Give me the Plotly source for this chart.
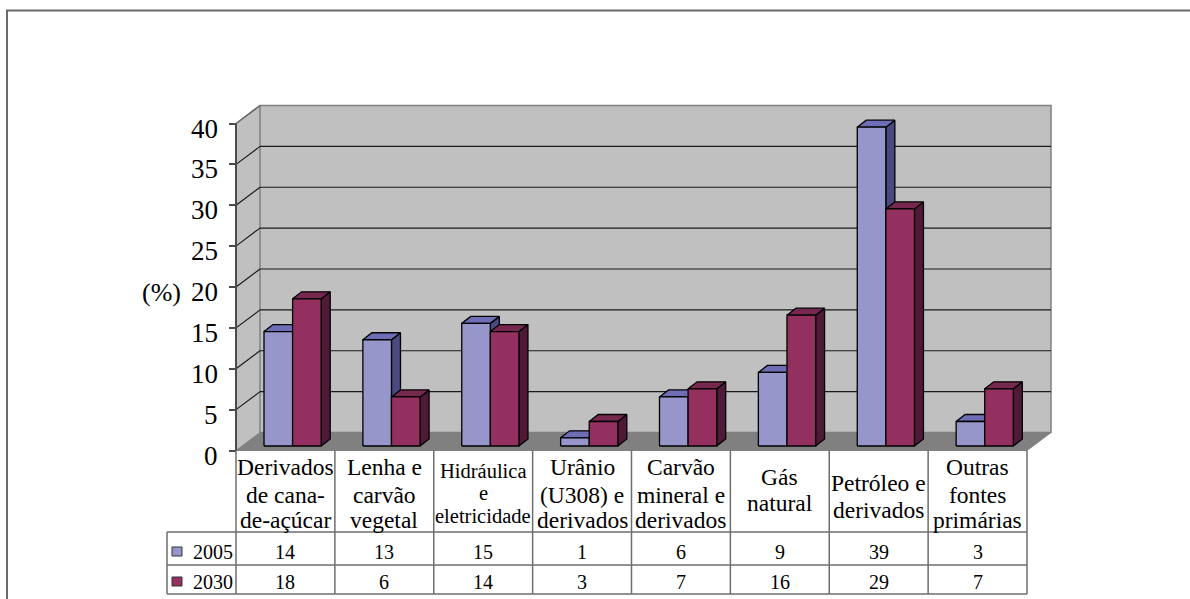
import plotly.graph_objects as go

# ---- data -------------------------------------------------------------
categories = [
    "Derivados<br>de cana-<br>de-açúcar",
    "Lenha e<br>carvão<br>vegetal",
    "Hidráulica<br>e<br>eletricidade",
    "Urânio<br>(U308) e<br>derivados",
    "Carvão<br>mineral e<br>derivados",
    "Gás<br>natural",
    "Petróleo e<br>derivados",
    "Outras<br>fontes<br>primárias",
]
series_names = ["2005", "2030"]
values_2005 = [14, 13, 15, 1, 6, 9, 39, 3]
values_2030 = [18, 6, 14, 3, 7, 16, 29, 7]
tick_values = [0, 5, 10, 15, 20, 25, 30, 35, 40]
axis_title = "(%)"

# ---- layout constants (pixels of the 1190x599 page) -------------------
W, H = 1190, 599
X0_PX = 236.0          # left edge of first category column
COL_PX = 98.875        # width of a category column
Y0_PX = 450.5          # value 0 on the front plane
UNIT_PX = 8.175        # pixels per percentage point

def px_x(px):
    return (px - X0_PX) / COL_PX

def px_y(py):
    return (Y0_PX - py) / UNIT_PX

N = len(categories)
YMAX = 40

# 3-D offsets (expressed in axis units)
WALL_DX, WALL_DY = 24 / COL_PX, 18 / UNIT_PX
BAR_DX, BAR_DY = 9 / COL_PX, 7 / UNIT_PX
BAR_LIFT = 4.5 / UNIT_PX
BAR_OFF = 28 / COL_PX
BAR_W = 28.6 / COL_PX

COLORS = {
    "2005": {"front": "#9696ca", "top": "#6e6eb6", "side": "#4a4a80"},
    "2030": {"front": "#93305f", "top": "#77284f", "side": "#4f1937"},
}
SERIF = "Liberation Serif"

fig = go.Figure()
shapes = []
annotations = []

# ---- walls, floor and gridlines ---------------------------------------
shapes.append(dict(type="path", xref="x", yref="y", layer="below",
                   path=f"M 0,0 L {WALL_DX},{WALL_DY} L {WALL_DX},{YMAX + WALL_DY} L 0,{YMAX} Z",
                   fillcolor="#c0c0c0", line=dict(width=0)))
shapes.append(dict(type="rect", xref="x", yref="y", layer="below",
                   x0=WALL_DX, x1=N + WALL_DX, y0=WALL_DY, y1=YMAX + WALL_DY,
                   fillcolor="#c0c0c0", line=dict(color="#808080", width=1.5)))
shapes.append(dict(type="path", xref="x", yref="y", layer="below",
                   path=f"M 0,0 L {WALL_DX},{WALL_DY} L {N + WALL_DX},{WALL_DY} L {N},0 Z",
                   fillcolor="#808080", line=dict(color="#808080", width=1)))
for v in tick_values[1:-1]:
    shapes.append(dict(type="line", xref="x", yref="y", layer="below",
                       x0=WALL_DX, x1=N + WALL_DX, y0=v + WALL_DY, y1=v + WALL_DY,
                       line=dict(color="#1a1a1a", width=1.2)))
    shapes.append(dict(type="line", xref="x", yref="y", layer="below",
                       x0=0, x1=WALL_DX, y0=v, y1=v + WALL_DY,
                       line=dict(color="#1a1a1a", width=1.2)))
shapes.append(dict(type="line", xref="x", yref="y", layer="below",
                   x0=0, x1=WALL_DX, y0=YMAX, y1=YMAX + WALL_DY,
                   line=dict(color="#606060", width=1.5)))
# front value axis line
shapes.append(dict(type="line", xref="x", yref="y",
                   x0=0, x1=0, y0=0, y1=YMAX,
                   line=dict(color="#4a4a4a", width=2)))

# ---- 3-D columns ------------------------------------------------------
def add_faces(vals, idx, name):
    front_x, front_y, top_x, top_y, side_x, side_y = [], [], [], [], [], []
    for i, v in enumerate(vals):
        x0 = i + BAR_OFF + idx * BAR_W
        x1 = x0 + BAR_W
        b, t = BAR_LIFT, BAR_LIFT + v
        front_x += [x0, x1, x1, x0, x0, None]
        front_y += [b, b, t, t, b, None]
        top_x += [x0, x1, x1 + BAR_DX, x0 + BAR_DX, x0, None]
        top_y += [t, t, t + BAR_DY, t + BAR_DY, t, None]
        side_x += [x1, x1 + BAR_DX, x1 + BAR_DX, x1, x1, None]
        side_y += [b, b + BAR_DY, t + BAR_DY, t, b, None]
    c = COLORS[name]
    for xs, ys, face in ((side_x, side_y, "side"), (top_x, top_y, "top"), (front_x, front_y, "front")):
        fig.add_trace(go.Scatter(
            x=xs, y=ys, mode="lines", fill="toself", fillcolor=c[face],
            line=dict(color="#000000", width=1.3), name=name,
            showlegend=False, hoverinfo="skip"))

add_faces(values_2005, 0, "2005")
add_faces(values_2030, 1, "2030")

# ---- value axis labels -------------------------------------------------
for v in tick_values:
    annotations.append(dict(x=0, y=v, xref="x", yref="y", text=str(v),
                            showarrow=False, xanchor="right", yanchor="middle",
                            xshift=-16, yshift=-5,
                            font=dict(family=SERIF, size=27, color="#000000")))
annotations.append(dict(x=px_x(161.5), y=px_y(292), xref="x", yref="y", text=axis_title,
                        showarrow=False, xanchor="center", yanchor="middle",
                        font=dict(family=SERIF, size=26, color="#000000")))

# ---- data table ---------------------------------------------------------
TABLE_LINE = dict(color="#6e6e6e", width=1.5)
y_head = px_y(532)
y_mid = px_y(565)
y_bot = px_y(594)
x_leg = px_x(167)
for yy in (y_head, y_mid, y_bot):
    shapes.append(dict(type="line", xref="x", yref="y", x0=x_leg, x1=N, y0=yy, y1=yy, line=TABLE_LINE))
for k in range(N + 1):
    shapes.append(dict(type="line", xref="x", yref="y", x0=k, x1=k, y0=0, y1=y_bot, line=TABLE_LINE))
shapes.append(dict(type="line", xref="x", yref="y", x0=x_leg, x1=x_leg, y0=y_head, y1=y_bot, line=TABLE_LINE))

# category header lines (visual centre of each text line, in pixels)
line_centres = {3: [467, 494.5, 520], 2: [477, 503]}
for i, label in enumerate(categories):
    parts = label.split("<br>")
    size = 23.5
    centres = line_centres[len(parts)]
    if parts[0].startswith("Hidr"):
        size, centres = 20.5, [471, 492.5, 516]
    if parts[0].startswith("Petr"):
        centres = [483, 510]
    for text, cy in zip(parts, centres):
        annotations.append(dict(x=i + 0.5, y=px_y(cy), xref="x", yref="y", text=text,
                                showarrow=False, xanchor="center", yanchor="middle",
                                font=dict(family=SERIF, size=size, color="#000000")))

row_centres = {"2005": 551.5, "2030": 581.5}
for name, vals in (("2005", values_2005), ("2030", values_2030)):
    cy = row_centres[name]
    shapes.append(dict(type="rect", xref="x", yref="y",
                       x0=px_x(172), x1=px_x(182), y0=px_y(cy + 4.5), y1=px_y(cy - 4.5),
                       fillcolor=COLORS[name]["front"], line=dict(color="#333333", width=1)))
    annotations.append(dict(x=px_x(213), y=px_y(cy), xref="x", yref="y", text=name,
                            showarrow=False, xanchor="center", yanchor="middle",
                            font=dict(family=SERIF, size=20, color="#000000")))
    for i, v in enumerate(vals):
        annotations.append(dict(x=i + 0.5, y=px_y(cy), xref="x", yref="y", text=str(v),
                                showarrow=False, xanchor="center", yanchor="middle",
                                font=dict(family=SERIF, size=20, color="#000000")))

# chart frame
shapes.append(dict(type="rect", xref="paper", yref="paper",
                   x0=7 / W, x1=1.02, y0=-0.02, y1=1 - 10.5 / H,
                   line=dict(color="#6a6a6a", width=2)))

fig.update_layout(
    width=W, height=H,
    margin=dict(l=0, r=0, t=0, b=0),
    paper_bgcolor="#ffffff", plot_bgcolor="#ffffff",
    showlegend=False,
    font=dict(family=SERIF),
    xaxis=dict(range=[px_x(0), px_x(W)], visible=False, fixedrange=True),
    yaxis=dict(range=[px_y(H), px_y(0)], fixedrange=True,
               showgrid=False, zeroline=False, showline=False,
               anchor="free", position=X0_PX / W,
               tickmode="array", tickvals=tick_values,
               ticks="outside", ticklen=7, tickwidth=1.5, tickcolor="#4a4a4a",
               showticklabels=False),
    shapes=shapes,
    annotations=annotations,
)

fig.write_html("out.html")
